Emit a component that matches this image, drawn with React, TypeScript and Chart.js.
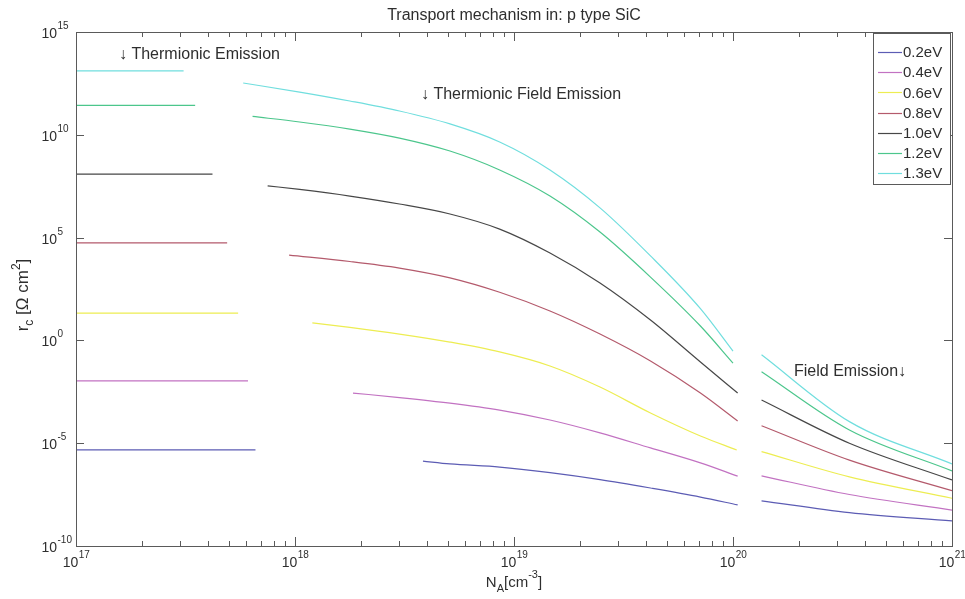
import React, { useEffect, useRef } from 'react';
import { Chart, registerables } from 'chart.js';
Chart.register(...registerables);

// ---- data (doping N_A in cm^-3, specific contact resistance r_c in Ohm cm^2) ----
const seriesLabels = ['0.2eV', '0.4eV', '0.6eV', '0.8eV', '1.0eV', '1.2eV', '1.3eV'];
const seriesColors = ['#5c5cb4', '#c272c2', '#eded52', '#b45a6c', '#474747', '#4cc68c', '#70dede'];

// Thermionic emission: flat level from 1e17 up to end doping
const teStartN = 1e17;
const teEndN = [6.6e17, 6.1e17, 5.5e17, 4.9e17, 4.2e17, 3.5e17, 3.1e17];
const teLevel = [4.7e-6, 1.07e-2, 21, 5.6e4, 1.23e8, 2.7e11, 1.3e13];

// Thermionic field emission: [N, r]
const tfe02 = [[3.84e18, 1.35e-6], [5.1e18, 9.8e-7], [8.6e18, 6.9e-7], [1.46e19, 3.7e-7], [2.47e19, 1.7e-7], [4.2e19, 6.6e-8], [7.1e19, 2.4e-8], [1.05e20, 1.0e-8]];
const tfe04 = [[1.84e18, 2.75e-3], [3.0e18, 1.66e-3], [5.1e18, 8.9e-4], [8.6e18, 4.1e-4], [1.46e19, 1.35e-4], [2.47e19, 3.2e-5], [4.2e19, 5.9e-6], [7.1e19, 1.1e-6], [1.05e20, 2.5e-7]];
const tfe06 = [[1.2e18, 7.1], [1.78e18, 4.3], [3.0e18, 2.04], [5.1e18, 0.83], [8.6e18, 0.275], [1.46e19, 0.057], [2.47e19, 5.4e-3], [4.2e19, 2.95e-4], [7.1e19, 2.24e-5], [1.04e20, 4.7e-6]];
const tfe08 = [[9.4e17, 1.41e4], [1.78e18, 6.9e3], [3.0e18, 3.3e3], [5.1e18, 1.1e3], [8.6e18, 220], [1.46e19, 27], [2.47e19, 2.04], [4.2e19, 0.1], [7.1e19, 2.75e-3], [1.05e20, 1.2e-4]];
const tfe10 = [[7.5e17, 3.3e7], [1.05e18, 2.2e7], [1.78e18, 1.05e7], [3.0e18, 4.3e6], [5.1e18, 1.41e6], [8.6e18, 2.6e5], [1.46e19, 1.78e4], [2.47e19, 620], [4.2e19, 9.8], [7.1e19, 0.089], [1.05e20, 2.75e-3]];
const tfe12 = [[6.4e17, 7.8e10], [1.05e18, 4.2e10], [1.78e18, 1.9e10], [3.0e18, 6.9e9], [5.1e18, 1.62e9], [8.6e18, 1.95e8], [1.46e19, 1.05e7], [2.47e19, 1.86e5], [4.2e19, 1.2e3], [7.1e19, 5.0], [1.0e20, 0.079]];
const tfe13 = [[5.8e17, 3.3e12], [1.05e18, 1.2e12], [1.78e18, 4.4e11], [3.0e18, 1.44e11], [5.1e18, 3.4e10], [8.6e18, 4.5e9], [1.46e19, 1.95e8], [2.47e19, 2.8e6], [4.2e19, 1.29e4], [7.1e19, 35], [1.0e20, 0.3]];
const tfeAll = [tfe02, tfe04, tfe06, tfe08, tfe10, tfe12, tfe13];

// Field emission
const feN = [1.35e20, 3.4e20, 1e21];
const fe02 = [1.58e-8, 4.2e-9, 1.66e-9];
const fe04 = [2.6e-7, 3.2e-8, 5.6e-9];
const fe06 = [3.9e-6, 2.3e-7, 2.1e-8];
const fe08 = [7.1e-5, 1.51e-6, 4.9e-8];
const fe10 = [1.26e-3, 1.0e-5, 1.62e-7];
const fe12 = [0.03, 4.4e-5, 4.5e-7];
const fe13 = [0.2, 1.12e-4, 9.8e-7];
const feAll = [fe02, fe04, fe06, fe08, fe10, fe12, fe13];

const xDecades = [17, 18, 19, 20, 21];
const yLabelExps = [-10, -5, 0, 5, 10, 15];

const titleText = 'Transport mechanism in: p type SiC';
const noteTE = '\u2193 Thermionic Emission';
const noteTFE = '\u2193 Thermionic Field Emission';
const noteFE = 'Field Emission\u2193';

const FONT = '"Liberation Sans", Arial, Helvetica, sans-serif';

function buildData(i: number) {
  const pts: { x: number; y: number | null }[] = [];
  pts.push({ x: teStartN, y: teLevel[i] });
  pts.push({ x: teEndN[i], y: teLevel[i] });
  const t = tfeAll[i];
  pts.push({ x: Math.sqrt(teEndN[i] * t[0][0]), y: null });
  t.forEach(p => pts.push({ x: p[0], y: p[1] }));
  pts.push({ x: Math.sqrt(t[t.length - 1][0] * feN[0]), y: null });
  feN.forEach((n, k) => pts.push({ x: n, y: feAll[i][k] }));
  return pts;
}

const decorPlugin = {
  id: 'decor',
  afterDraw(chart: any) {
    const ctx = chart.ctx as CanvasRenderingContext2D;
    const a = chart.chartArea;
    const xs = chart.scales.x;
    const ys = chart.scales.y;
    ctx.save();
    const axisColor = '#5a5a5a';
    const textColor = '#2e2e2e';
    ctx.strokeStyle = axisColor;
    ctx.lineWidth = 1;
    ctx.strokeRect(Math.round(a.left) + 0.5, Math.round(a.top) + 0.5, Math.round(a.right - a.left), Math.round(a.bottom - a.top));

    // x ticks
    ctx.beginPath();
    xDecades.forEach((d, idx) => {
      const px = Math.round(xs.getPixelForValue(Math.pow(10, d))) + 0.5;
      ctx.moveTo(px, a.bottom); ctx.lineTo(px, a.bottom - 9);
      ctx.moveTo(px, a.top); ctx.lineTo(px, a.top + 9);
      if (idx < xDecades.length - 1) {
        for (let m = 2; m <= 9; m++) {
          const mx = Math.round(xs.getPixelForValue(m * Math.pow(10, d))) + 0.5;
          ctx.moveTo(mx, a.bottom); ctx.lineTo(mx, a.bottom - 5);
          ctx.moveTo(mx, a.top); ctx.lineTo(mx, a.top + 5);
        }
      }
    });
    // y ticks
    yLabelExps.forEach(e => {
      const py = Math.round(ys.getPixelForValue(Math.pow(10, e))) + 0.5;
      ctx.moveTo(a.left, py); ctx.lineTo(a.left + 8, py);
      ctx.moveTo(a.right, py); ctx.lineTo(a.right - 8, py);
    });
    ctx.stroke();

    ctx.fillStyle = textColor;
    ctx.textBaseline = 'alphabetic';
    // x labels
    xDecades.forEach(d => {
      const px = xs.getPixelForValue(Math.pow(10, d));
      ctx.font = `14px ${FONT}`;
      const w1 = ctx.measureText('10').width;
      ctx.font = `10px ${FONT}`;
      const w2 = ctx.measureText(String(d)).width;
      const start = px - (w1 + w2) / 2;
      ctx.font = `14px ${FONT}`;
      ctx.textAlign = 'left';
      ctx.fillText('10', start, a.bottom + 21);
      ctx.font = `10px ${FONT}`;
      ctx.fillText(String(d), start + w1 + 0.5, a.bottom + 12);
    });
    // y labels
    yLabelExps.forEach(e => {
      const py = ys.getPixelForValue(Math.pow(10, e));
      ctx.font = `14px ${FONT}`;
      ctx.textAlign = 'right';
      ctx.fillText('10', a.left - 19, py + 6);
      ctx.font = `10px ${FONT}`;
      ctx.textAlign = 'left';
      ctx.fillText(String(e), a.left - 18.5, py - 3);
    });

    // title
    ctx.font = `16px ${FONT}`;
    ctx.textAlign = 'center';
    ctx.fillText(titleText, (a.left + a.right) / 2, 20);

    // x-axis title: N_A[cm^-3]
    {
      const parts: [string, number, number][] = [['N', 15, 0], ['A', 11, 5], ['[cm', 15, 0], ['-3', 11, -9], [']', 15, 0]];
      let total = 0;
      parts.forEach(p => { ctx.font = `${p[1]}px ${FONT}`; total += ctx.measureText(p[0]).width; });
      let x = (a.left + a.right) / 2 - total / 2;
      ctx.textAlign = 'left';
      parts.forEach(p => {
        ctx.font = `${p[1]}px ${FONT}`;
        ctx.fillText(p[0], x, 587 + p[2]);
        x += ctx.measureText(p[0]).width;
      });
    }
    // y-axis title: r_c [Ω cm^2]
    {
      const parts: [string, number, number][] = [['r', 17, 0], ['c', 12, 5], [' [\u03A9 cm', 17, 0], ['2', 12, -8], [']', 17, 0]];
      let total = 0;
      parts.forEach(p => { ctx.font = `${p[1]}px ${FONT}`; total += ctx.measureText(p[0]).width; });
      ctx.translate(28, (a.top + a.bottom) / 2 + 6);
      ctx.rotate(-Math.PI / 2);
      let x = -total / 2;
      ctx.textAlign = 'left';
      parts.forEach(p => {
        ctx.font = `${p[1]}px ${FONT}`;
        ctx.fillText(p[0], x, p[2]);
        x += ctx.measureText(p[0]).width;
      });
      ctx.setTransform(1, 0, 0, 1, 0, 0);
    }

    // annotations
    ctx.font = `16px ${FONT}`;
    ctx.textAlign = 'left';
    ctx.fillText(noteTE, 119, 59);
    ctx.fillText(noteTFE, 421, 99);
    ctx.fillText(noteFE, 794, 376);

    // legend
    const lx = 873, ly = 33, lw = 77, lh = 151;
    ctx.fillStyle = '#ffffff';
    ctx.fillRect(lx, ly, lw, lh);
    ctx.strokeStyle = axisColor;
    ctx.strokeRect(lx + 0.5, ly + 0.5, lw, lh);
    ctx.font = `15px ${FONT}`;
    ctx.textBaseline = 'middle';
    seriesLabels.forEach((lab, i) => {
      const y = 52 + i * 20.2;
      ctx.strokeStyle = seriesColors[i];
      ctx.lineWidth = 1.2;
      ctx.beginPath();
      ctx.moveTo(878, Math.round(y) + 0.5);
      ctx.lineTo(902, Math.round(y) + 0.5);
      ctx.stroke();
      ctx.fillStyle = textColor;
      ctx.fillText(lab, 903, y + 1);
    });
    ctx.restore();
  },
};

export default function App() {
  const ref = useRef<HTMLCanvasElement | null>(null);
  useEffect(() => {
    if (!ref.current) return;
    const chart = new Chart(ref.current, {
      type: 'line',
      data: {
        datasets: seriesLabels.map((lab, i) => ({
          label: lab,
          data: buildData(i),
          borderColor: seriesColors[i],
          backgroundColor: seriesColors[i],
          borderWidth: 1.2,
          pointRadius: 0,
          fill: false,
          spanGaps: false,
          cubicInterpolationMode: 'monotone' as const,
        })),
      },
      options: {
        animation: false,
        responsive: false,
        devicePixelRatio: 1,
        layout: { padding: { left: 76, right: 13, top: 32, bottom: 53 } },
        plugins: { legend: { display: false }, tooltip: { enabled: false }, title: { display: false } },
        scales: {
          x: { type: 'logarithmic', min: 1e17, max: 1e21, display: false },
          y: { type: 'logarithmic', min: 1e-10, max: 1e15, display: false },
        },
      },
      plugins: [decorPlugin],
    });
    return () => chart.destroy();
  }, []);
  return (
    <div style={{ position: 'fixed', left: 0, top: 0, width: 965, height: 599, background: '#fff' }}>
      <canvas ref={ref} width={965} height={599} />
    </div>
  );
}
